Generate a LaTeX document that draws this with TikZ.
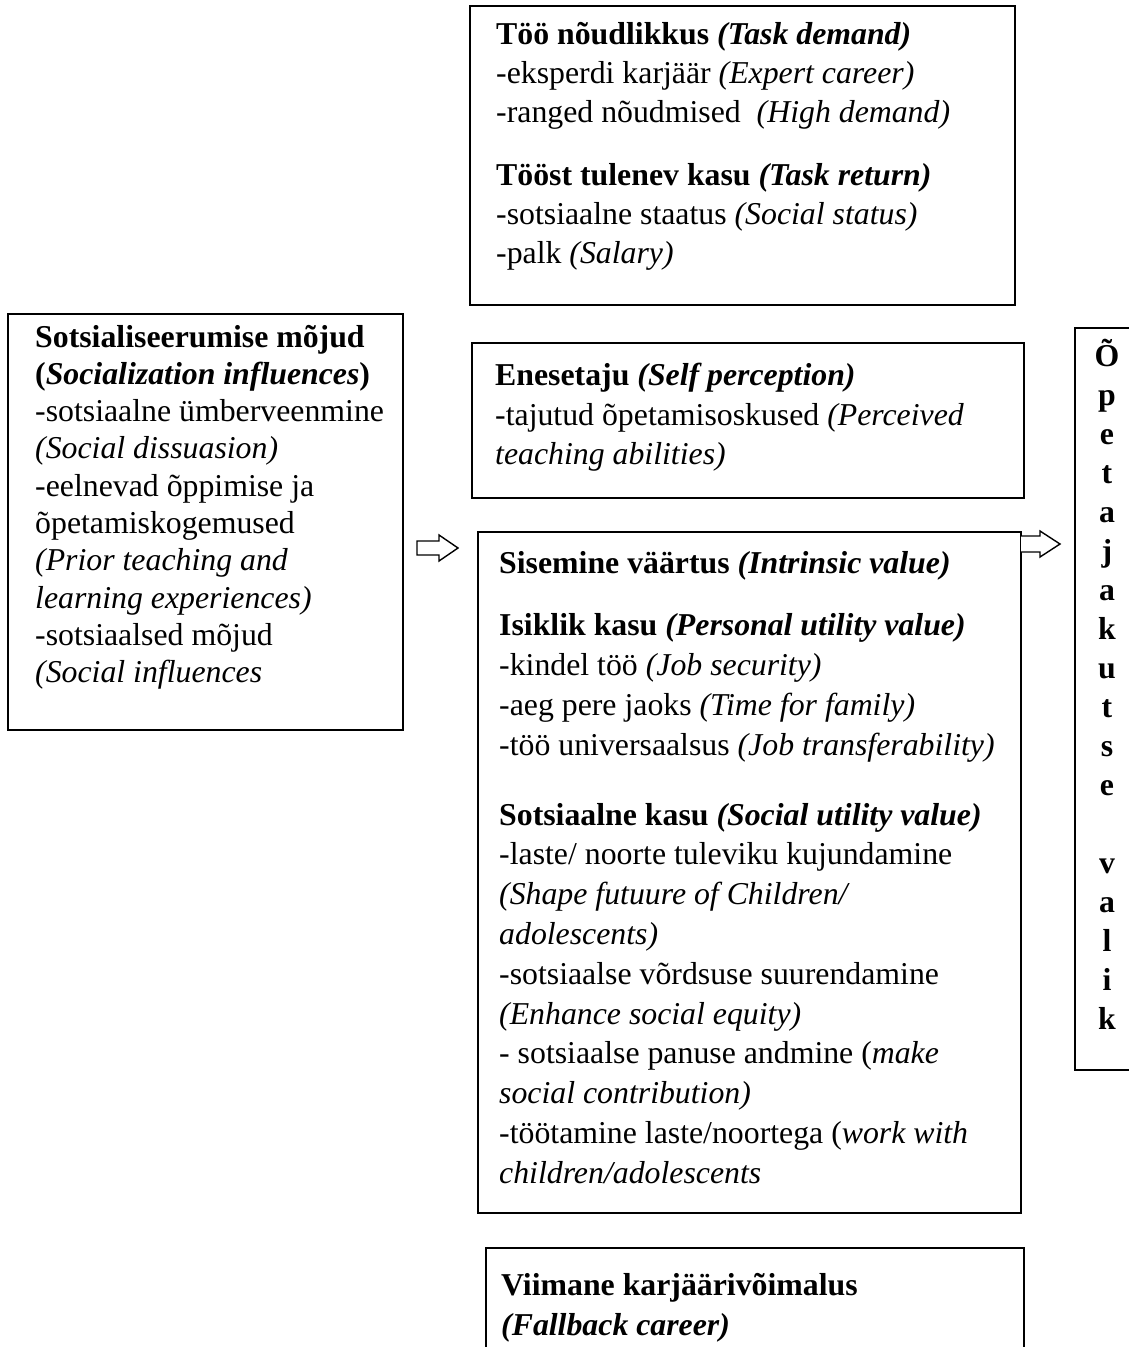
\documentclass[tikz,border=0pt]{standalone}
\usepackage{fontspec}
\setmainfont{Liberation Serif}
\tikzset{
  box/.style={draw, line width=1.6pt, inner sep=0pt},
  txt/.style={anchor=base west, inner sep=0pt},
  blockarrow/.style={draw, line width=1.4pt, fill=white, line join=miter}
}
\newcommand{\fs}[1]{\fontsize{31.8}{#1}\selectfont}
\begin{document}
\begin{tikzpicture}[x=1pt,y=-1pt]
\useasboundingbox (0,0) rectangle (1129,1347);
\clip (0,0) rectangle (1129,1347);
% boxes
\draw[box] (470,6) rectangle (1015,305);
\draw[box] (8,314) rectangle (403,730);
\draw[box] (472,343) rectangle (1024,498);
\draw[box] (478,532) rectangle (1021,1213);
\draw[box] (486,1360) -- (486,1248) -- (1024,1248) -- (1024,1360);
\draw[box] (1075,328) rectangle (1140,1070);
% texts
\node[txt] (ttop) at (496,44) {\parbox[t]{600pt}{\fs{39}%
\textbf{Töö nõudlikkus \textit{(Task demand)}}\\
-eksperdi karjäär \textit{(Expert career)}\\
-ranged nõudmised\ \ \textit{(High demand)}\\[24pt]
\textbf{Tööst tulenev kasu \textit{(Task return)}}\\
-sotsiaalne staatus \textit{(Social status)}\\
-palk \textit{(Salary)}}};
\node[txt] (tleft) at (35,347) {\parbox[t]{400pt}{\fs{37.3}%
\textbf{Sotsialiseerumise mõjud}\\
\textbf{(\textit{Socialization influences})}\\
-sotsiaalne ümberveenmine\\
\textit{(Social dissuasion)}\\
-eelnevad õppimise ja\\
õpetamiskogemused\\
\textit{(Prior teaching and}\\
\textit{learning experiences)}\\
-sotsiaalsed mõjud\\
\textit{(Social influences}}};
\node[txt] (tself) at (495,385) {\parbox[t]{600pt}{\fs{39}%
\textbf{Enesetaju \textit{(Self perception)}}\\[1pt]
-tajutud õpetamisoskused \textit{(Perceived}\\
\textit{teaching abilities)}}};
\node[txt] (tintr) at (499,573) {\parbox[t]{600pt}{\fs{39.8}%
\textbf{Sisemine väärtus \textit{(Intrinsic value)}}\\[23pt]
\textbf{Isiklik kasu \textit{(Personal utility value)}}\\
-kindel töö \textit{(Job security)}\\
-aeg pere jaoks \textit{(Time for family)}\\
-töö universaalsus \textit{(Job transferability)}\\[30pt]
\textbf{Sotsiaalne kasu \textit{(Social utility value)}}\\
-laste/ noorte tuleviku kujundamine\\
\textit{(Shape futuure of Children/}\\
\textit{adolescents)}\\
-sotsiaalse võrdsuse suurendamine\\
\textit{(Enhance social equity)}\\
- sotsiaalse panuse andmine (\textit{make}\\
\textit{social contribution)}\\
-töötamine laste/noortega (\textit{work with}\\
\textit{children/adolescents}}};
\node[txt] (tfall) at (501,1295) {\parbox[t]{600pt}{\fs{40}%
\textbf{Viimane karjäärivõimalus}\\
\textbf{\textit{(Fallback career)}}}};
\node[anchor=base, inner sep=0pt] (tvert) at (1107,366) {\parbox[t]{40pt}{\centering\fs{39}\bfseries
Õ\\p\\e\\t\\a\\j\\a\\k\\u\\t\\s\\e\\[39pt]v\\a\\l\\i\\k}};
% block arrows
\draw[blockarrow] (417,541) -- (439,541) -- (439,535) -- (458,548) -- (439,561) -- (439,555) -- (417,555) -- cycle;
\draw[blockarrow] (1021,536) -- (1040,536) -- (1040,531) -- (1060,544) -- (1040,557) -- (1040,552) -- (1021,552);
\end{tikzpicture}
\end{document}
